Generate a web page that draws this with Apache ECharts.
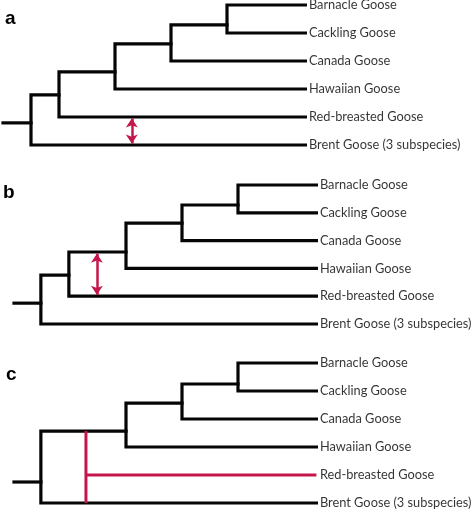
<!DOCTYPE html>
<html>
<head>
<meta charset="utf-8">
<script src="https://cdn.jsdelivr.net/npm/echarts@6/dist/echarts.min.js"></script>
<style>html,body{margin:0;padding:0;background:#fff;}#c{width:472px;height:511px;}</style>
</head>
<body>
<div id="c"></div>
<script>
// Leaf taxa, top to bottom (row index = position)
const species = ['Barnacle Goose', 'Cackling Goose', 'Canada Goose', 'Hawaiian Goose', 'Red-breasted Goose', 'Brent Goose (3 subspecies)'];
const panelLetters = ['a', 'b', 'c'];
const tipDepth = 10.8;   // branch tips (depth units)
const stubStart = 0;     // start of the root stub

// Ladder trees: node i joins (leaf 0 or node i-1) with leaf nodeLeaf[i]
const nodeDepthA = [8, 6, 4, 2, 1];
const nodeConnA  = [0.71, 1.39, 2.39, 3.21, 4.21];
const nodeLeafA  = [1, 2, 3, 4, 5];

const nodeDepthB = [8, 6, 4, 1.96, 0.96];
const nodeConnB  = [0.72, 1.37, 2.41, 3.24, 4.25];
const nodeLeafB  = [1, 2, 3, 4, 5];

const nodeDepthC = [8, 6, 4, 0.96];
const nodeConnC  = [0.75, 1.43, 2.43, 4.25];
const nodeLeafC  = [1, 2, 3, 5];

// Red marks
const arrowA = {depth: 4.6, from: 4.05, to: 4.95};
const arrowB = {depth: 2.96, from: 2.47, to: 3.95};
const redC = {depth: 2.57, from: 2.43, to: 5, leaf: 4};

const BLACK = '#050505';
const RED = '#c4164a';

function treePaths(depths, conns, leaves) {
  const paths = [];
  for (let i = 0; i < depths.length; i++) {
    const upEnd = i === 0 ? tipDepth : depths[i - 1];
    const upY = i === 0 ? 0 : conns[i - 1];
    const lowY = leaves[i];
    paths.push({coords: [[upEnd, upY], [depths[i], upY], [depths[i], lowY], [tipDepth, lowY]]});
  }
  const r = depths.length - 1;
  paths.push({coords: [[stubStart, conns[r]], [depths[r], conns[r]]]});
  return paths;
}

const grids = [
  {left: 3, top: 5, width: 308, height: 140},
  {left: 14, top: 185, width: 308, height: 139},
  {left: 14, top: 363, width: 308, height: 140}
];

const series = [];
const trees = [
  treePaths(nodeDepthA, nodeConnA, nodeLeafA),
  treePaths(nodeDepthB, nodeConnB, nodeLeafB),
  treePaths(nodeDepthC, nodeConnC, nodeLeafC)
];
trees.forEach((paths, gi) => {
  series.push({
    type: 'lines', coordinateSystem: 'cartesian2d', xAxisIndex: gi, yAxisIndex: gi,
    polyline: true, silent: true, clip: false,
    lineStyle: {color: BLACK, width: 3.2, opacity: 1, join: 'miter', cap: 'square'},
    data: paths, z: 2
  });
  series.push({
    type: 'scatter', xAxisIndex: gi, yAxisIndex: gi, symbolSize: 0, silent: true, clip: false,
    label: {show: true, position: 'right', distance: 3.5, formatter: p => p.name,
      fontFamily: 'Lato', fontSize: 12.8, color: '#000'},
    data: species.map((s, i) => ({name: s, value: [tipDepth, i]}))
  });
});
// arrows
[[arrowA, 0], [arrowB, 1]].forEach(([a, gi]) => {
  series.push({
    type: 'lines', coordinateSystem: 'cartesian2d', xAxisIndex: gi, yAxisIndex: gi,
    silent: true, clip: false, symbol: ['arrow', 'arrow'], symbolSize: [9, 9],
    lineStyle: {color: RED, width: 2.5, opacity: 1},
    data: [{coords: [[a.depth, a.from], [a.depth, a.to]]}], z: 3
  });
});
// panel c red attachment
series.push({
  type: 'lines', coordinateSystem: 'cartesian2d', xAxisIndex: 2, yAxisIndex: 2,
  polyline: true, silent: true, clip: false,
  lineStyle: {color: RED, width: 3, opacity: 1, cap: 'butt'},
  data: [
    {coords: [[redC.depth, redC.from], [redC.depth, redC.to]]},
    {coords: [[redC.depth, redC.leaf], [tipDepth, redC.leaf]]}
  ], z: 3
});

const letterPos = [{left: 5, top: 9}, {left: 3, top: 183}, {left: 6, top: 365}];

const option = {
  animation: false,
  backgroundColor: '#fff',
  title: panelLetters.map((t, i) => ({
    text: t, left: letterPos[i].left, top: letterPos[i].top, padding: 0,
    textStyle: {fontFamily: 'Liberation Sans', fontWeight: 'bold', fontSize: 19, color: '#000'}
  })),
  grid: grids,
  xAxis: grids.map((g, i) => ({type: 'value', gridIndex: i, min: 0, max: 11, show: false})),
  yAxis: grids.map((g, i) => ({type: 'value', gridIndex: i, min: 0, max: 5, inverse: true, show: false})),
  series: series
};
const chart = echarts.init(document.getElementById('c'), null, {renderer: 'canvas'});
chart.setOption(option);
</script>
</body>
</html>
